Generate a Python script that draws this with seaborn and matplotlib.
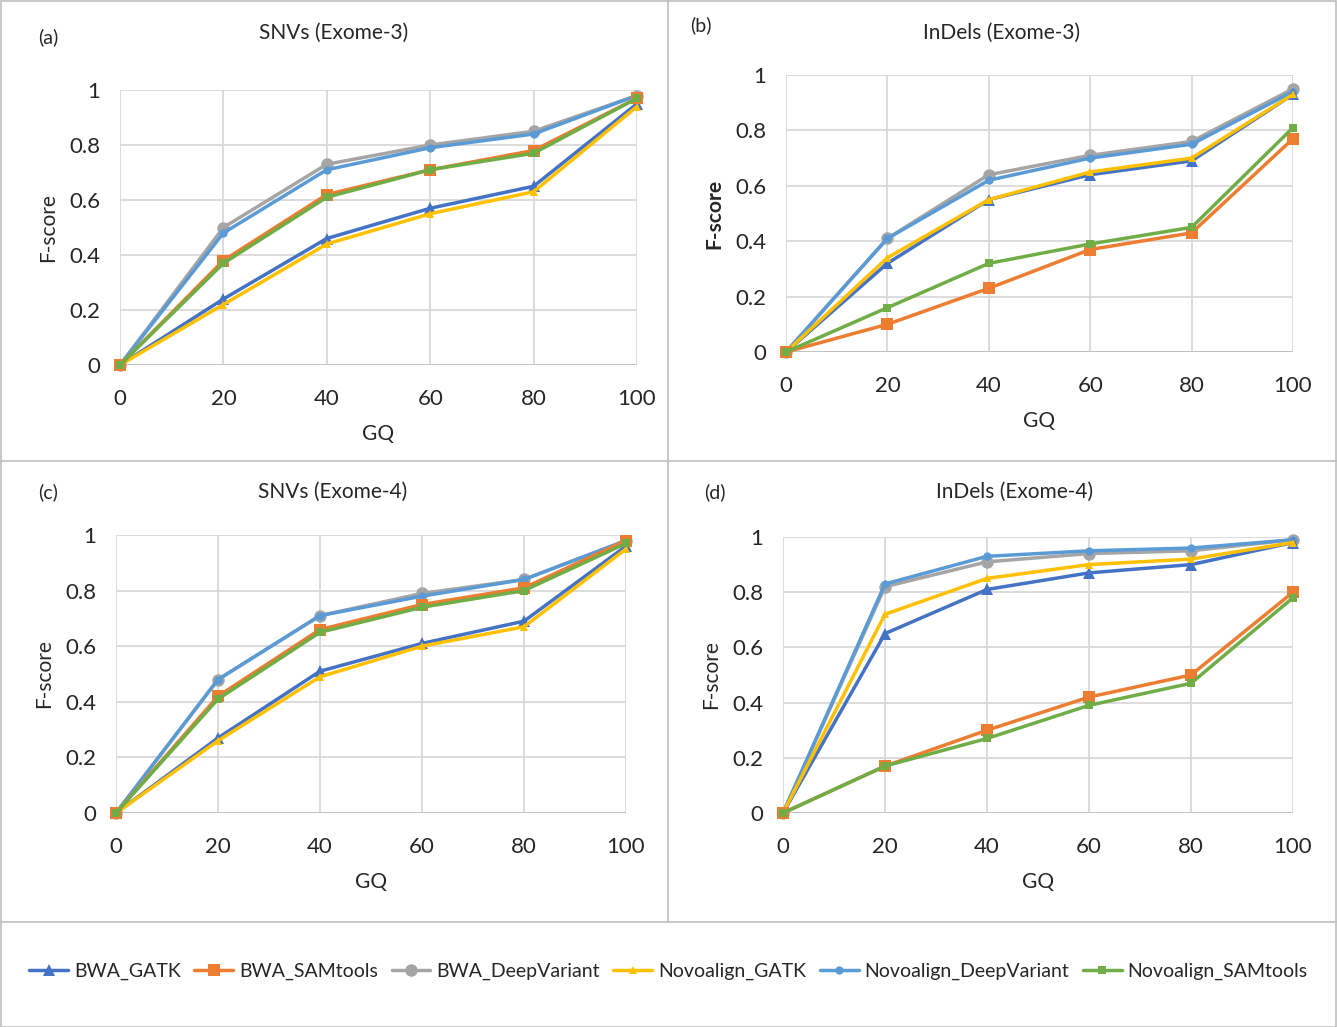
import numpy as np
import pandas as pd
import matplotlib
matplotlib.use("Agg")
import matplotlib.pyplot as plt
from matplotlib.lines import Line2D
from matplotlib.patches import Rectangle
import seaborn as sns

gq = [0, 20, 40, 60, 80, 100]
series_names = ["BWA_GATK", "BWA_SAMtools", "BWA_DeepVariant",
                "Novoalign_GATK", "Novoalign_DeepVariant", "Novoalign_SAMtools"]

# Panel (a) SNVs (Exome-3)
a_bwa_gatk = [0, 0.24, 0.46, 0.57, 0.65, 0.95]
a_bwa_sam = [0, 0.38, 0.62, 0.71, 0.78, 0.97]
a_bwa_dv = [0, 0.50, 0.73, 0.80, 0.85, 0.98]
a_novo_gatk = [0, 0.22, 0.44, 0.55, 0.63, 0.94]
a_novo_dv = [0, 0.48, 0.71, 0.79, 0.84, 0.98]
a_novo_sam = [0, 0.37, 0.61, 0.71, 0.77, 0.97]

# Panel (b) InDels (Exome-3)
b_bwa_gatk = [0, 0.32, 0.55, 0.64, 0.69, 0.93]
b_bwa_sam = [0, 0.10, 0.23, 0.37, 0.43, 0.77]
b_bwa_dv = [0, 0.41, 0.64, 0.71, 0.76, 0.95]
b_novo_gatk = [0, 0.34, 0.55, 0.65, 0.70, 0.93]
b_novo_dv = [0, 0.41, 0.62, 0.70, 0.75, 0.94]
b_novo_sam = [0, 0.16, 0.32, 0.39, 0.45, 0.81]

# Panel (c) SNVs (Exome-4)
c_bwa_gatk = [0, 0.27, 0.51, 0.61, 0.69, 0.96]
c_bwa_sam = [0, 0.42, 0.66, 0.75, 0.81, 0.98]
c_bwa_dv = [0, 0.48, 0.71, 0.79, 0.84, 0.98]
c_novo_gatk = [0, 0.26, 0.49, 0.60, 0.67, 0.95]
c_novo_dv = [0, 0.48, 0.71, 0.78, 0.84, 0.98]
c_novo_sam = [0, 0.41, 0.65, 0.74, 0.80, 0.97]

# Panel (d) InDels (Exome-4)
d_bwa_gatk = [0, 0.65, 0.81, 0.87, 0.90, 0.98]
d_bwa_sam = [0, 0.17, 0.30, 0.42, 0.50, 0.80]
d_bwa_dv = [0, 0.82, 0.91, 0.94, 0.95, 0.99]
d_novo_gatk = [0, 0.72, 0.85, 0.90, 0.92, 0.98]
d_novo_dv = [0, 0.83, 0.93, 0.95, 0.96, 0.99]
d_novo_sam = [0, 0.17, 0.27, 0.39, 0.47, 0.78]

panels = [
    ("(a)", "SNVs (Exome-3)", [a_bwa_gatk, a_bwa_sam, a_bwa_dv, a_novo_gatk, a_novo_dv, a_novo_sam]),
    ("(b)", "InDels (Exome-3)", [b_bwa_gatk, b_bwa_sam, b_bwa_dv, b_novo_gatk, b_novo_dv, b_novo_sam]),
    ("(c)", "SNVs (Exome-4)", [c_bwa_gatk, c_bwa_sam, c_bwa_dv, c_novo_gatk, c_novo_dv, c_novo_sam]),
    ("(d)", "InDels (Exome-4)", [d_bwa_gatk, d_bwa_sam, d_bwa_dv, d_novo_gatk, d_novo_dv, d_novo_sam]),
]

colors = ["#4472C4", "#ED7D31", "#A5A5A5", "#FFC000", "#5B9BD5", "#70AD47"]
markers = ["^", "s", "o", "^", "o", "s"]
msizes = [9, 8, 9, 6, 6, 6]
order_draw = [2, 4, 0, 3, 1, 5]

sns.set_theme(style="white")
plt.rcParams['font.family'] = ['Lato', 'DejaVu Sans']

W, H = 1337, 1027
fig = plt.figure(figsize=(W / 100, H / 100), dpi=100)

# axes boxes in pixel coords: left, top, right, bottom
boxes = [(120, 90, 637, 365), (786, 75, 1293, 352), (116, 535, 626, 813), (783, 537, 1293, 813)]
title_pos = [(334, 33), (1002, 33), (333, 492), (1015, 492)]
label_pos = [(38, 37), (690, 25), (38, 492), (704, 492)]

for i, (lab, title, data) in enumerate(panels):
    l, t, r, b = boxes[i]
    ax = fig.add_axes([l / W, 1 - b / H, (r - l) / W, (b - t) / H])
    for j in order_draw:
        sns.lineplot(x=gq, y=data[j], ax=ax, color=colors[j], marker=markers[j],
                     markersize=msizes[j], markeredgewidth=0, linewidth=2.5,
                     label=series_names[j], legend=False, clip_on=False)
    ax.set_xlim(0, 100)
    ax.set_ylim(0, 1)
    ax.set_xticks(gq)
    ax.set_yticks([0, 0.2, 0.4, 0.6, 0.8, 1])
    ax.set_yticklabels(["0", "0.2", "0.4", "0.6", "0.8", "1"])
    ax.tick_params(axis="x", labelsize=16, length=0, pad=17)
    ax.tick_params(axis="y", labelsize=16, length=0, pad=14)
    ax.grid(True, color="#D9D9D9", linewidth=1.3)
    for s in ax.spines.values():
        s.set_visible(False)
    ax.axhline(0, color="#BFBFBF", linewidth=1.3, zorder=1)
    ax.set_xlabel("GQ", fontsize=15, labelpad=11)
    ax.set_ylabel("F-score", fontsize=15, fontweight="bold" if i == 1 else "normal", labelpad=8)
    fig.text(title_pos[i][0] / W, 1 - title_pos[i][1] / H, title, ha="center", va="center", fontsize=15)
    fig.text(label_pos[i][0] / W, 1 - label_pos[i][1] / H, lab, ha="left", va="center", fontsize=14)

# panel borders
border = "#BFBFBF"
fig.add_artist(Rectangle((0.5 / W, 0.5 / H), 1 - 1.5 / W, 1 - 1.5 / H, transform=fig.transFigure,
                         fill=False, edgecolor=border, linewidth=1.2))
fig.add_artist(Line2D([668 / W, 668 / W], [1 - 922 / H, 1], transform=fig.transFigure, color=border, linewidth=1.2))
fig.add_artist(Line2D([0, 1], [1 - 461 / H, 1 - 461 / H], transform=fig.transFigure, color=border, linewidth=1.2))
fig.add_artist(Line2D([0, 1], [1 - 922 / H, 1 - 922 / H], transform=fig.transFigure, color=border, linewidth=1.2))

handles = [Line2D([0], [0], color=colors[j], marker=markers[j], markersize=msizes[j],
                  markeredgewidth=0, linewidth=2.5) for j in range(6)]
fig.legend(handles, series_names, loc="center", bbox_to_anchor=(0.5, 1 - 971 / H), ncol=6,
           frameon=False, fontsize=14, handlelength=2.0, handletextpad=0.3, columnspacing=0.7)

fig.savefig("out.png", dpi=100)
